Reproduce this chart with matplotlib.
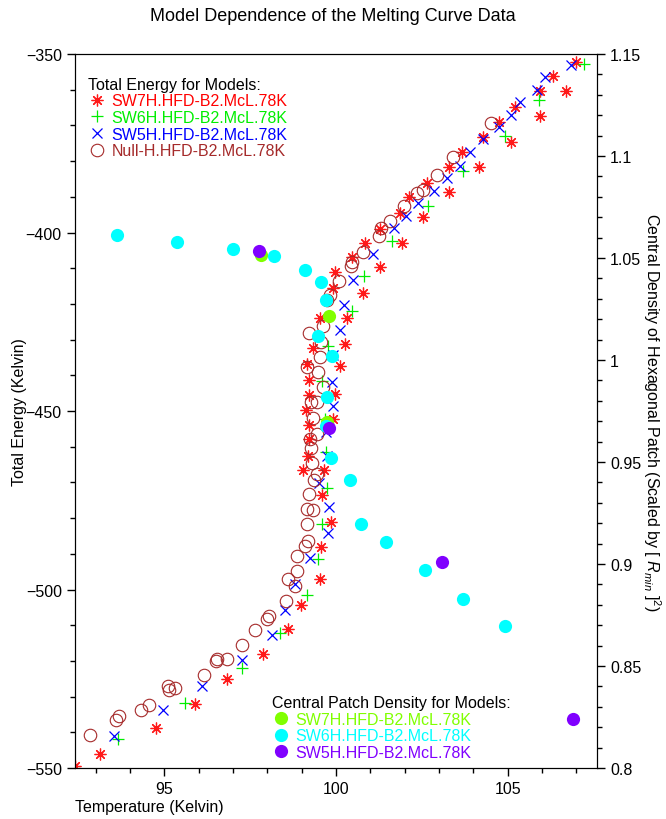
import matplotlib
matplotlib.use("Agg")
import matplotlib.pyplot as plt
from matplotlib.ticker import MultipleLocator, FuncFormatter

plt.rcParams["font.family"] = ["Liberation Sans", "DejaVu Sans"]
plt.rcParams["mathtext.fontset"] = "custom"
plt.rcParams["mathtext.rm"] = "Liberation Sans"
plt.rcParams["mathtext.it"] = "Liberation Sans:italic"

# Total energy (left axis): temperature, energy
sw7_temp = [106.98, 106.31, 106.69, 105.93, 105.93, 105.20, 105.09, 104.74, 104.27, 104.16,
            103.66, 103.28, 103.28, 102.65, 102.53, 102.12, 101.86, 101.92, 101.28, 100.84,
            100.47, 101.28, 99.97, 100.78, 99.91, 100.32, 99.53, 99.33, 100.26, 99.16,
            100.12, 99.22, 99.22, 99.97, 99.13, 99.91, 99.22, 99.22, 99.19, 99.04,
            99.65, 99.59, 99.85, 99.56, 99.53, 98.98, 98.60, 97.88, 96.83, 95.90,
            94.77, 93.14, 92.41]
sw7_energy = [-352.2, -356.2, -360.4, -360.4, -367.4, -364.8, -374.6, -369.0, -373.2, -381.7,
              -377.5, -381.7, -388.7, -386.1, -395.7, -390.1, -394.5, -402.9, -399.0, -402.9,
              -406.9, -409.7, -411.1, -416.9, -415.5, -423.9, -423.9, -432.4, -431.2, -436.8,
              -437.4, -441.3, -445.5, -445.2, -449.7, -452.2, -453.9, -457.8, -462.6, -466.5,
              -466.5, -473.5, -481.1, -488.1, -497.1, -504.3, -511.1, -518.1, -525.1, -532.1,
              -538.8, -546.1, -549.4]

sw6_temp = [107.21, 105.90, 104.91, 103.69, 102.67, 101.63, 100.81, 100.47, 99.77, 99.59,
            99.68, 99.71, 99.74, 99.59, 99.48, 99.16, 98.37, 97.27, 95.61, 93.66]
sw6_energy = [-352.8, -362.9, -373.0, -382.8, -392.6, -402.4, -412.2, -422.0, -431.8, -441.6,
              -452.2, -461.5, -471.6, -481.7, -491.5, -501.5, -512.2, -522.0, -531.8, -541.9]

sw5_temp = [106.83, 106.10, 105.84, 105.35, 105.09, 104.74, 104.27, 103.90, 103.60, 103.23,
            102.85, 102.38, 102.03, 101.69, 101.08, 100.49, 100.23, 100.12, 99.91, 99.88,
            99.91, 99.71, 99.74, 99.51, 99.80, 99.77, 99.24, 98.81, 98.52, 98.14,
            97.27, 96.10, 94.97, 93.55]
sw5_energy = [-353.1, -356.4, -360.1, -363.4, -367.1, -370.4, -373.8, -377.5, -381.4, -384.7,
              -388.4, -391.7, -395.4, -398.7, -406.0, -413.3, -420.3, -427.3, -434.3, -441.9,
              -448.6, -455.9, -462.6, -470.2, -476.9, -484.2, -491.2, -498.5, -505.7, -512.7,
              -519.7, -527.0, -533.8, -541.0]

null_temp = [104.51, 103.40, 102.94, 102.53, 102.35, 101.98, 101.57, 101.31, 101.25, 100.78,
             100.47, 100.44, 100.09, 99.83, 99.74, 99.62, 99.22, 99.56, 99.53, 99.16,
             99.48, 99.62, 99.27, 99.45, 99.33, 99.45, 99.24, 99.27, 99.30, 99.45,
             99.36, 99.22, 99.16, 99.33, 99.16, 99.19, 99.10, 98.87, 98.87, 98.60,
             98.81, 98.55, 98.05, 97.99, 97.65, 97.27, 96.83, 96.54, 96.51, 96.16,
             95.32, 95.12, 95.15, 94.56, 94.33, 93.69, 93.58, 92.85]
null_energy = [-369.3, -378.9, -383.9, -388.1, -388.9, -392.6, -396.8, -398.7, -401.0, -405.5,
               -408.3, -409.4, -413.6, -417.5, -418.9, -426.2, -428.2, -430.7, -434.9, -437.7,
               -439.1, -443.3, -447.5, -447.5, -452.0, -456.4, -457.8, -460.4, -464.6, -467.6,
               -469.3, -473.2, -477.5, -477.7, -481.7, -486.4, -487.8, -490.6, -494.8, -497.1,
               -499.0, -503.2, -507.4, -508.3, -511.3, -515.5, -519.5, -519.5, -520.0, -524.0,
               -527.6, -527.0, -528.2, -532.4, -533.8, -535.4, -536.6, -540.8]

# Central patch density (right axis)
d7_temp = [97.82, 99.80, 99.74]
d7_dens = [1.0515, 1.0216, 0.9696]

d6_temp = [93.63, 95.38, 97.01, 98.20, 99.10, 99.56, 99.71, 99.48, 99.88, 99.74,
           99.71, 99.85, 100.41, 100.73, 101.45, 102.59, 103.69, 104.91]
d6_dens = [1.0613, 1.0578, 1.0544, 1.0510, 1.0441, 1.0382, 1.0294, 1.0118, 1.0020, 0.9819,
           0.9676, 0.9520, 0.9412, 0.9196, 0.9108, 0.8971, 0.8828, 0.8696]

d5_temp = [97.76, 99.80, 103.08, 106.89]
d5_dens = [1.0534, 0.9667, 0.9010, 0.8240]

fig = plt.figure(figsize=(6.66, 8.2), dpi=100)
ax = fig.add_axes([0.1126, 0.0622, 0.7838, 0.8707])
ax2 = ax.twinx()

red, green, blue, brown = "#ff0000", "#00ee00", "#0000ff", "#a52a2a"
lime, cyan, purple = "#80ff00", "#00ffff", "#8000ff"

h1, = ax.plot(sw7_temp, sw7_energy, ls="none", marker=(8, 2, 0), ms=8.5, mew=0.9, color=red,
              alpha=0.9, label="SW7H.HFD-B2.McL.78K")
h2, = ax.plot(sw6_temp, sw6_energy, ls="none", marker="+", ms=9, mew=0.9, color=green,
              label="SW6H.HFD-B2.McL.78K")
h3, = ax.plot(sw5_temp, sw5_energy, ls="none", marker="x", ms=6.5, mew=0.9, color=blue,
              label="SW5H.HFD-B2.McL.78K")
h4, = ax.plot(null_temp, null_energy, ls="none", marker="o", ms=9, mew=0.8, mfc="none",
              color=brown, label="Null-H.HFD-B2.McL.78K")

g1, = ax2.plot(d7_temp, d7_dens, ls="none", marker="o", ms=9.5, mew=0, color=lime,
               label="SW7H.HFD-B2.McL.78K")
g2, = ax2.plot(d6_temp, d6_dens, ls="none", marker="o", ms=9.5, mew=0, color=cyan,
               label="SW6H.HFD-B2.McL.78K")
g3, = ax2.plot(d5_temp, d5_dens, ls="none", marker="o", ms=9.5, mew=0, color=purple,
               label="SW5H.HFD-B2.McL.78K")

ax.set_xlim(92.4, 107.6)
ax.set_ylim(-550, -350)
ax2.set_ylim(0.8, 1.15)

ax.xaxis.set_major_locator(MultipleLocator(5))
ax.xaxis.set_minor_locator(MultipleLocator(1))
ax.yaxis.set_major_locator(MultipleLocator(50))
ax.yaxis.set_minor_locator(MultipleLocator(10))
ax2.yaxis.set_major_locator(MultipleLocator(0.05))
ax2.yaxis.set_minor_locator(MultipleLocator(0.01))
ax2.yaxis.set_major_formatter(FuncFormatter(lambda v, p: "%g" % round(v, 2)))

for a in (ax, ax2):
    a.tick_params(which="major", length=6, width=1, labelsize=11.5, direction="out")
    a.tick_params(which="minor", length=3.5, width=1, direction="out")

ax.set_xlabel("Temperature (Kelvin)", fontsize=11.5, loc="left", labelpad=2)
ax.set_ylabel("Total Energy (Kelvin)", fontsize=11.5, labelpad=-1)
ax2.set_ylabel(r"Central Density of Hexagonal Patch (Scaled by [ $R_{min}$ ]$^2$)",
               fontsize=11.5, rotation=270, labelpad=15)
fig.suptitle("Model Dependence of the Melting Curve Data", fontsize=13, y=0.99)

leg1 = ax.legend(handles=[h1, h2, h3, h4], loc="upper left", bbox_to_anchor=(0.0, 0.986),
                 frameon=False, title="Total Energy for Models:", alignment="left",
                 fontsize=11.5, title_fontsize=11.5, labelspacing=0.1, handlelength=1.2,
                 handletextpad=0.3, borderpad=0.3,
                 labelcolor=[red, green, blue, brown])
leg2 = ax2.legend(handles=[g1, g2, g3], loc="upper left", bbox_to_anchor=(0.352, 0.12),
                  frameon=False, title="Central Patch Density for Models:", alignment="left",
                  fontsize=11.5, title_fontsize=11.5, labelspacing=0.1, handlelength=1.2,
                  handletextpad=0.3, borderpad=0.3,
                  labelcolor=[lime, cyan, purple])

fig.savefig("out.png", dpi=100)
plt.close(fig)
